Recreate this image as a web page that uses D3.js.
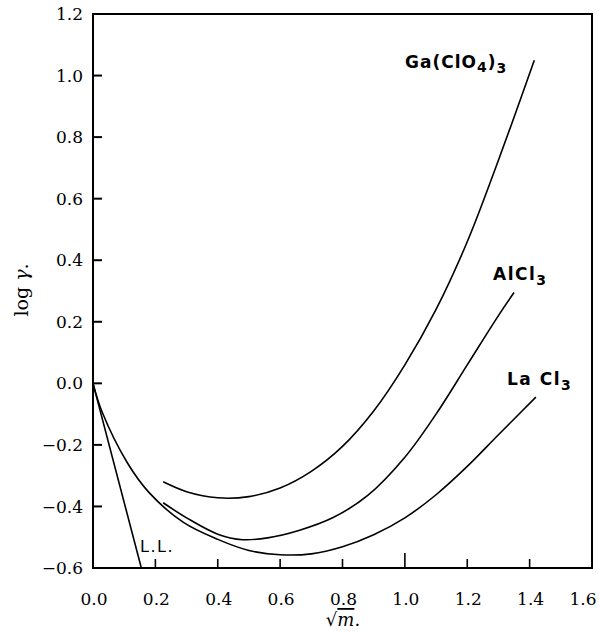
<!DOCTYPE html>
<html><head><meta charset="utf-8">
<script src="https://cdn.jsdelivr.net/npm/d3@7"></script>
<style>
body{margin:0;background:#fff;}
svg{display:block;}
</style></head>
<body>
<svg id="c" width="599" height="636"></svg>
<script>
// ---- data ----
const xTicks = [0.0, 0.2, 0.4, 0.6, 0.8, 1.0, 1.2, 1.4, 1.6];
const yTicks = [-0.6, -0.4, -0.2, 0.0, 0.2, 0.4, 0.6, 0.8, 1.0, 1.2];
const seriesNames = ["Ga(ClO4)3", "AlCl3", "LaCl3", "L.L."];
const gaClO4 = [[0.225,-0.32],[0.3,-0.352],[0.4,-0.372],[0.5,-0.368],[0.6,-0.34],[0.7,-0.286],[0.8,-0.205],[0.9,-0.09],[1.0,0.06],[1.1,0.24],[1.2,0.46],[1.3,0.725],[1.415,1.05]];
const alCl3 = [[0.225,-0.388],[0.3,-0.437],[0.4,-0.49],[0.48,-0.508],[0.56,-0.502],[0.66,-0.478],[0.77,-0.436],[0.88,-0.365],[1.0,-0.24],[1.1,-0.1],[1.2,0.06],[1.3,0.22],[1.35,0.295]];
const laCl3 = [[0,0],[0.03,-0.095],[0.11,-0.258],[0.18,-0.355],[0.29,-0.452],[0.4,-0.507],[0.5,-0.543],[0.6,-0.557],[0.7,-0.554],[0.8,-0.531],[0.9,-0.492],[1.0,-0.437],[1.1,-0.362],[1.2,-0.27],[1.3,-0.167],[1.42,-0.045]];
const limitingLaw = [[0,0],[0.155,-0.6]];

// ---- layout ----
const svg = d3.select("#c");
const L = 93, R = 592, T = 14, B = 568;
const x = d3.scaleLinear().domain([0,1.6]).range([L,R]);
const y = d3.scaleLinear().domain([-0.6,1.2]).range([B,T]);
const serif = "DejaVu Serif, serif";
const sans = "DejaVu Sans, sans-serif";

// frame
svg.append("rect").attr("x",L).attr("y",T).attr("width",R-L).attr("height",B-T)
  .attr("fill","none").attr("stroke","#000").attr("stroke-width",2);

// y ticks (inward) and labels
const gy = svg.append("g");
gy.selectAll("line").data(yTicks).join("line")
  .attr("x1",L).attr("x2",L+9).attr("y1",d=>y(d)).attr("y2",d=>y(d))
  .attr("stroke","#000").attr("stroke-width",2);
gy.selectAll("text").data(yTicks).join("text")
  .attr("x",L-10).attr("y",d=>y(d)).attr("dy","0.36em").attr("text-anchor","end")
  .attr("font-family",serif).attr("font-size",17).attr("fill","#000")
  .text(d => (d<0 ? "\u2212" : "") + Math.abs(d).toFixed(1));

// x ticks (inward) and labels
const gx = svg.append("g");
gx.selectAll("line").data(xTicks.filter(d=>d>0 && d<1.6)).join("line")
  .attr("x1",d=>x(d)).attr("x2",d=>x(d)).attr("y1",B).attr("y2",d=> d===1.0 ? B-15 : B-9)
  .attr("stroke","#000").attr("stroke-width",1.6);
gx.selectAll("text").data(xTicks).join("text")
  .attr("x",d=> d===1.6 ? x(d)-9 : x(d)+1).attr("y",B+37).attr("text-anchor","middle")
  .attr("font-family",serif).attr("font-size",17).attr("fill","#000")
  .text(d => d.toFixed(1));

// curves
const line = d3.line().x(d=>x(d[0])).y(d=>y(d[1])).curve(d3.curveCatmullRom.alpha(0.5));
const g = svg.append("g").attr("fill","none").attr("stroke","#000").attr("stroke-width",1.6);
[gaClO4, alCl3, laCl3].forEach(s => g.append("path").attr("d", line(s)));
g.append("path").attr("d", d3.line().x(d=>x(d[0])).y(d=>y(d[1]))(limitingLaw));

// labels
const lab = svg.append("g").attr("font-family",sans).attr("font-size",17)
  .attr("font-weight","bold").attr("fill","#000");
function chem(px, py, parts, ls){
  const t = lab.append("text").attr("x",px).attr("y",py).attr("letter-spacing",ls);
  parts.forEach(p => {
    const ts = t.append("tspan").text(p[0]);
    if (p[1]) ts.attr("dy", p[1]);
    if (p[2]) ts.attr("font-size", p[2]);
  });
}
chem(405, 68, [["Ga(ClO"],["4",4,14],[")",-4],["3",5,14]], 1);
chem(493, 280, [["AlCl"],["3",5,14]], 1.5);
chem(507, 385, [["La Cl"],["3",5,14]], 1.5);
lab.append("text").attr("x",140).attr("y",552).attr("font-size",16)
  .attr("font-weight","normal").attr("letter-spacing",1.5).text("L.L.");

// axis titles
svg.append("text").attr("transform","translate(28,290) rotate(-90)")
  .attr("text-anchor","middle").attr("font-family",serif).attr("font-size",19)
  .html('log <tspan font-style="italic">γ</tspan>.');
const xt = svg.append("text").attr("x",343).attr("y",626).attr("text-anchor","middle")
  .attr("font-family",serif).attr("font-size",18);
xt.append("tspan").text("\u221A");
xt.append("tspan").attr("font-style","italic").style("text-decoration","overline").text("m");
xt.append("tspan").text(".");
</script>
</body></html>
